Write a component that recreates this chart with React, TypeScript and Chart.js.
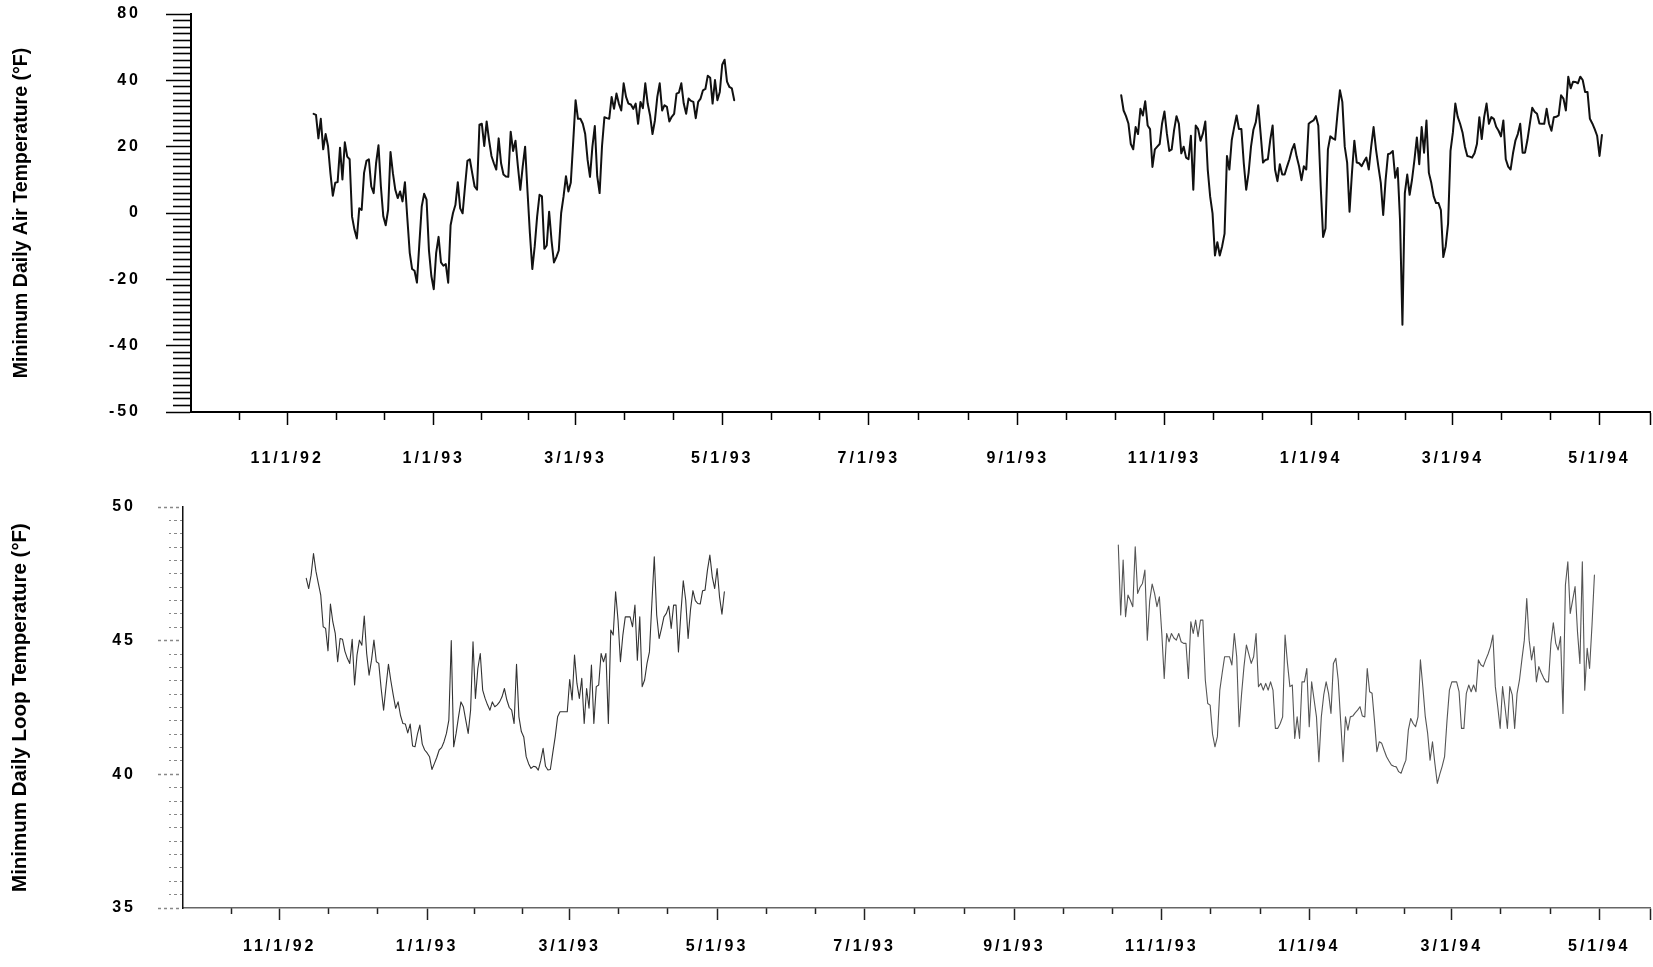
import React, { useEffect, useRef } from 'react';
import { Chart, registerables } from 'chart.js';

Chart.register(...registerables);

// ---------- tick labels ----------
const xTickDates = ['1992-11-01', '1993-01-01', '1993-03-01', '1993-05-01', '1993-07-01', '1993-09-01', '1993-11-01', '1994-01-01', '1994-03-01', '1994-05-01'];
const xTickLabels = ['11/1/92', '1/1/93', '3/1/93', '5/1/93', '7/1/93', '9/1/93', '11/1/93', '1/1/94', '3/1/94', '5/1/94'];
const airTickValues = [-60, -40, -20, 0, 20, 40, 60];
const airTickLabels = ['-50', '-40', '-20', '0', '20', '40', '80'];
const loopTickValues = [35, 40, 45, 50];
const loopTickLabels = ['35', '40', '45', '50'];

// ---------- series (daily values) ----------
const air1Start = '1992-11-12';
const air1 = [
  29.9, 29.6, 22.5, 28.4, 19.2, 23.8, 20.2, 12, 5.2, 9.1,
  9.3, 19.7, 10.1, 21.3, 17, 16.2, -1.1, -5, -7.7, 1.4,
  0.9, 12.1, 15.7, 16.2, 8, 6, 15, 20.4, 8.0,
  -1, -3.7, 0.9, 18.4, 12, 7.0, 4.5, 6.5, 3.5, 9.3,
  -1.6, -12, -16.9, -17.4, -21.0, -9.3, 2, 5.8, 4.0, -11.3,
  -19, -23.0, -12, -7.2, -14.9, -15.9, -15.4, -21.0, -3.7, 0,
  2.4, 9.3, 1.4, -0.1, 8, 15.7, 16.2, 12, 8.0, 7.0,
  26.6, 26.9, 20.2, 27.6, 22, 17.2, 15, 13.1, 22.5, 15,
  11.6, 11, 10.9, 24.5, 18.7, 21.8, 14.1, 7.0, 14, 20.0,
  6.5, -6.2, -16.9, -10, -1.1, 5.5, 5.0, -10.8, -9.8, 0.4,
  -8.3, -14.9, -13.3, -11.3, 0, 5.0, 11.1, 6.5, 9.1, 21.3,
  34.0, 28.4, 28.4, 26.9, 23.8, 16, 10.9, 20, 26.2, 11.1,
  6.0, 20.2, 28.9, 28.6, 28.4, 35.0, 31.4, 36.0, 33.0, 30.9,
  39.1, 35, 33.0, 32.7, 31.4, 33.0, 26.9, 33.5, 31.6, 39.1,
  33, 29.4, 23.8, 27.9, 35, 39.1, 30.9, 32.5, 32.0, 27.6,
  29, 29.9, 36.0, 36.3, 39.1, 33, 29.9, 34.5, 33.8, 33.5,
  28.6, 33.5, 34.5, 37.0, 37.4, 41.4, 40.8, 33.0, 40.1, 34.0,
  36.5, 44.7, 46.2, 39.6, 38, 37.6, 34.0,
];

const air2Start = '1993-10-14';
const air2 = [
  35.5, 30.9, 29.2, 27, 20.8, 19.2, 25.9, 23.8, 31.4, 29.4,
  33.7, 26.4, 25.3, 13.9, 19.2, 20, 20.8, 27, 30.6, 24,
  18.7, 19.2, 25, 29.2, 26.9, 18.0, 20.0, 16.7, 16.2, 23.3,
  7.0, 26.4, 25.3, 21.8, 24, 27.6, 13.1, 5, -0.1, -12.8,
  -8.8, -12.8, -10, -6.2, 17.2, 13.1, 22, 25.9, 29.4, 25.3,
  25.3, 15, 7.0, 12.1, 20, 25.1, 27.4, 32.5, 24, 15.2,
  16, 16.2, 22, 26.4, 13.1, 9.6, 14.7, 11.6, 11.6, 14,
  16.2, 19, 20.8, 17, 14.1, 9.9, 14.1, 13.1, 26.9, 27.5,
  27.9, 29.2, 26.4, 8, -7.2, -4.7, 19.2, 23.1, 22.5, 22.1,
  30, 37.0, 33.5, 20, 15.2, 0.4, 12.1, 21.8, 15.2, 15,
  14.1, 15.5, 16.7, 13.1, 20, 25.9, 19.2, 14, 9.1, -0.6,
  10, 17.7, 18, 18.7, 10.6, 13.6, -2.1, -33.7, 6.0, 11.6,
  5.5, 10.1, 16, 22.8, 14.7, 25.9, 18.2, 27.9, 12.1, 9.1,
  5, 3.0, 3.0, 0.9, -13.3, -10, -3.1, 18.7, 24.3, 33.0,
  29, 26.9, 24.3, 20, 17.2, 17, 16.7, 18, 20.8, 28.9,
  22.3, 28.9, 33.0, 26.9, 28.9, 28.4, 26, 24.8, 23.1, 27.9,
  16.2, 14, 13.1, 18, 21.8, 23.8, 26.9, 18.2, 18.2, 22,
  26.9, 31.7, 30.5, 29.9, 27, 26.9, 26.9, 31.4, 26.9, 24.8,
  28.9, 29, 29.4, 35.5, 34.5, 30.9, 41.1, 37.6, 39.6, 39.5,
  39.1, 41.1, 40.1, 36.5, 36.5, 28.4, 27, 25.3, 23.3, 17.2,
  23.5,
];

const loop1Start = '1992-11-12';
const loop1 = [
  47.33, 46.95, 47.45, 48.26, 47.6, 47.14, 46.70, 45.52, 45.46, 44.62,
  46.37, 45.7, 45.27, 44.21, 45.08, 45.05, 44.6, 44.34, 44.15, 45.05,
  43.34, 44.46, 45.02, 44.83, 45.92, 44.52, 43.71, 44.27, 45.02, 44.21,
  44.15, 43.2, 42.4, 43.28, 44.12, 43.5, 42.96, 42.47, 42.71, 42.2,
  41.9, 41.88, 41.55, 41.88, 41.06, 41.03, 41.5, 41.84, 41.13, 40.91,
  40.8, 40.66, 40.18, 40.4, 40.63, 40.91, 41.0, 41.22, 41.53, 42.03,
  45.0, 41.03, 41.53, 42.15, 42.71, 42.53, 42.03, 41.53, 42.4, 44.96,
  42.84, 43.96, 44.52, 43.15, 42.84, 42.6, 42.4, 42.71, 42.53, 42.6,
  42.71, 42.9, 43.21, 42.78, 42.5, 42.4, 41.9, 44.12, 42.15, 41.6,
  41.4, 40.66, 40.4, 40.22, 40.3, 40.28, 40.16, 40.5, 40.97, 40.3,
  40.16, 40.18, 40.8, 41.4, 42.15, 42.34, 42.34, 42.34, 42.34, 43.55,
  42.78, 44.46, 43.4, 42.84, 43.59, 41.9, 43.21, 42.47, 44.09, 41.9,
  43.28, 43.34, 44.52, 44.21, 44.52, 41.9, 45.4, 45.21, 46.83, 45.77,
  44.21, 45.21, 45.89, 45.89, 45.89, 45.52, 46.33, 44.27, 45.89, 43.28,
  43.53, 44.15, 44.58, 46.39, 48.14, 45.96, 45.08, 45.46, 45.89, 46.02,
  46.29, 45.46, 46.33, 46.33, 44.58, 46.02, 47.24, 46.52, 45.08, 46.17,
  46.87, 46.5, 46.39, 46.37, 46.87, 46.89, 47.64, 48.2, 47.39, 46.95,
  47.7, 46.64, 45.99, 46.83,
];

const loop2Start = '1993-10-14';
const loop2 = [
  48.58, 45.96, 48.02, 45.9, 46.71, 46.5, 46.27, 48.51, 46.77, 47.0,
  47.14, 47.64, 45.02, 46.5, 47.12, 46.77, 46.27, 46.64, 45.27, 43.59,
  45.27, 44.96, 45.27, 45.1, 45.02, 45.27, 44.96, 44.9, 44.9, 43.59,
  45.71, 45.27, 45.77, 45.15, 45.77, 45.77, 43.53, 42.65, 42.59, 41.5,
  41.03, 41.41, 43.15, 43.8, 44.4, 44.4, 44.4, 44.09, 45.27, 44.4,
  41.78, 43.0, 44.03, 44.84, 44.5, 44.15, 44.4, 45.27, 43.28, 43.4,
  43.15, 43.4, 43.15, 43.46, 43.15, 41.72, 41.72, 41.9, 42.15, 45.21,
  44.15, 43.28, 43.34, 41.34, 42.15, 41.34, 43.46, 43.46, 43.96, 41.78,
  43.46, 42.8, 42.15, 40.47, 42.15, 42.97, 43.46, 43.03, 42.28, 44.15,
  44.34, 43.53, 42.0, 40.47, 42.15, 41.65, 42.15, 42.18, 42.3, 42.4,
  42.53, 42.18, 42.15, 43.96, 43.09, 43.03, 42.0, 40.85, 41.22, 41.16,
  40.9, 40.66, 40.5, 40.35, 40.3, 40.28, 40.1, 40.04, 40.3, 40.53,
  41.65, 42.09, 41.9, 41.78, 42.15, 44.28, 43.28, 42.18, 41.53, 40.53,
  41.22, 40.4, 39.66, 40.0, 40.3, 40.66, 42.0, 43.15, 43.46, 43.46,
  43.46, 43.09, 41.72, 41.72, 43.03, 43.34, 43.09, 43.34, 43.09, 44.28,
  44.1, 44.03, 44.28, 44.5, 44.78, 45.21, 43.28, 42.53, 41.72, 43.28,
  42.53, 41.72, 43.28, 42.97, 41.72, 43.03, 43.53, 44.3, 45.02, 46.58,
  45.02, 44.28, 44.78, 43.46, 44.03, 43.8, 43.6, 43.46, 43.46, 44.9,
  45.67, 44.9, 44.65, 45.15, 42.28, 47.08, 47.95, 46.02, 46.52, 47.02,
  45.33, 44.15, 47.95, 43.15, 44.71, 43.96, 45.58, 47.45,
];

// ---------- helpers ----------
const EPOCH = Date.UTC(1992, 10, 1);
function dayOf(s: string): number {
  const [y, m, d] = s.split('-').map(Number);
  return Math.round((Date.UTC(y, m - 1, d) - EPOCH) / 86400000);
}
function toPoints(start: string, vals: number[]) {
  const s = dayOf(start);
  return vals.map((v, i) => ({ x: s + i, y: v }));
}

const X_MIN = -40;
const X_MAX = 567;
const majorDays = xTickDates.map(dayOf);
const minorDays: number[] = [majorDays[0] - 20];
for (let i = 0; i < majorDays.length - 1; i++) {
  const a = majorDays[i];
  const b = majorDays[i + 1];
  minorDays.push(a + (b - a) / 3, a + (2 * (b - a)) / 3);
}

const FONT = "'Liberation Sans', Arial, Helvetica, sans-serif";

const spacingPlugin = {
  id: 'labelSpacing',
  beforeDraw(chart: any) {
    Object.values(chart.scales).forEach((s: any) => {
      if (s.__patched) return;
      const orig = s.drawLabels.bind(s);
      s.drawLabels = (ca: any) => {
        const ctx = s.ctx;
        ctx.save();
        try { (ctx as any).letterSpacing = '3px'; } catch (e) { /* ignore */ }
        orig(ca);
        ctx.restore();
      };
      s.__patched = true;
    });
  },
};

interface PanelCfg {
  datasets: any[];
  yMin: number;
  yMax: number;
  yTickValues: number[];
  yTickLabels: string[];
  yMinorStep: number;
  title: string;
  titleSize: number;
  titlePad: number;
  yWidth: number;
  xHeight: number;
  padTop: number;
  xTickLen: number;
  xMinorLen: number;
  xPad: number;
  yTickLen: number;
  yMinorLen: number;
  yPad: number;
  axisColor: string;
  xBorder: any;
  yBorder: any;
  yTickColor: string;
  yTickDash: number[];
  yMinorWidth: number;
}

function buildChart(canvas: HTMLCanvasElement, c: PanelCfg) {
  const yMinor: number[] = [];
  for (let v = c.yMin; v <= c.yMax + 1e-9; v += c.yMinorStep) {
    const r = Math.round(v * 100) / 100;
    if (!c.yTickValues.includes(r)) yMinor.push(r);
  }
  const tickFont = { family: FONT, size: 16, weight: 'bold' as const };
  return new Chart(canvas, {
    type: 'line',
    data: { datasets: c.datasets },
    plugins: [spacingPlugin],
    options: {
      animation: false,
      responsive: true,
      maintainAspectRatio: false,
      layout: { padding: { left: 0, right: 3, top: c.padTop, bottom: 0 } },
      plugins: { legend: { display: false }, tooltip: { enabled: false } },
      elements: { point: { radius: 0 }, line: { tension: 0, borderJoinStyle: 'round', borderCapStyle: 'round' } },
      scales: {
        x: {
          type: 'linear',
          axis: 'x',
          position: 'bottom',
          min: X_MIN,
          max: X_MAX,
          afterBuildTicks: (s: any) => {
            s.ticks = majorDays.concat([X_MAX]).map((v) => ({ value: v }));
          },
          afterFit: (s: any) => {
            s.height = c.xHeight;
            s.paddingLeft = 0;
            s.paddingRight = 0;
          },
          ticks: {
            autoSkip: false,
            maxRotation: 0,
            minRotation: 0,
            padding: c.xPad,
            color: '#000',
            font: tickFont,
            callback: (v: any) => {
              const i = majorDays.indexOf(Number(v));
              return i >= 0 ? xTickLabels[i] : '';
            },
          },
          grid: { drawOnChartArea: false, drawTicks: true, tickLength: c.xTickLen, tickWidth: 1.5, tickColor: c.axisColor },
          border: c.xBorder,
        },
        xMinor: {
          type: 'linear',
          axis: 'x',
          position: { y: c.yMin },
          min: X_MIN,
          max: X_MAX,
          afterBuildTicks: (s: any) => { s.ticks = minorDays.map((v) => ({ value: v })); },
          ticks: { display: false },
          grid: { drawOnChartArea: false, drawTicks: true, tickLength: c.xMinorLen, tickWidth: 1.5, tickColor: c.axisColor },
          border: { display: false },
        },
        y: {
          type: 'linear',
          axis: 'y',
          position: 'left',
          min: c.yMin,
          max: c.yMax,
          afterBuildTicks: (s: any) => { s.ticks = c.yTickValues.map((v) => ({ value: v })); },
          afterFit: (s: any) => {
            s.width = c.yWidth;
            s.paddingTop = 0;
            s.paddingBottom = 0;
          },
          ticks: {
            autoSkip: false,
            padding: c.yPad,
            color: '#000',
            font: tickFont,
            callback: (v: any) => {
              const i = c.yTickValues.indexOf(Number(v));
              return i >= 0 ? c.yTickLabels[i] : '';
            },
          },
          grid: { drawOnChartArea: false, drawTicks: true, tickLength: c.yTickLen, tickWidth: 1.5, tickColor: c.yTickColor, tickBorderDash: c.yTickDash },
          border: c.yBorder,
          title: {
            display: true,
            text: c.title,
            color: '#000',
            font: { family: FONT, size: c.titleSize, weight: 'bold' },
            padding: { top: c.titlePad, bottom: 0 },
          },
        },
        yMinor: {
          type: 'linear',
          axis: 'y',
          position: { x: X_MIN },
          min: c.yMin,
          max: c.yMax,
          afterBuildTicks: (s: any) => { s.ticks = yMinor.map((v) => ({ value: v })); },
          ticks: { display: false },
          grid: { drawOnChartArea: false, drawTicks: true, tickLength: c.yMinorLen, tickWidth: c.yMinorWidth, tickColor: c.yTickColor, tickBorderDash: c.yTickDash },
          border: { display: false },
        },
      },
    } as any,
  });
}

export default function App() {
  const topRef = useRef<HTMLCanvasElement>(null);
  const botRef = useRef<HTMLCanvasElement>(null);

  useEffect(() => {
    const topLine = { borderColor: '#111', borderWidth: 2, pointRadius: 0, fill: false, xAxisID: 'x', yAxisID: 'y' };
    const botLine = { borderWidth: 1.1, pointRadius: 0, fill: false, xAxisID: 'x', yAxisID: 'y' };
    const top = buildChart(topRef.current!, {
      datasets: [
        { ...topLine, label: 'air 1992-93', data: toPoints(air1Start, air1) },
        { ...topLine, label: 'air 1993-94', data: toPoints(air2Start, air2) },
      ],
      yMin: -60,
      yMax: 60,
      yTickValues: airTickValues,
      yTickLabels: airTickLabels,
      yMinorStep: 2,
      title: 'Minimum Daily Air Temperature (°F)',
      titleSize: 19.5,
      titlePad: 10,
      yWidth: 191,
      xHeight: 68,
      padTop: 14,
      xTickLen: 13,
      xMinorLen: 8,
      xPad: 24,
      yTickLen: 25,
      yMinorLen: 18,
      yPad: 25,
      axisColor: '#000',
      xBorder: { display: true, color: '#000', width: 2 },
      yBorder: { display: true, color: '#000', width: 2 },
      yTickColor: '#000',
      yTickDash: [],
      yMinorWidth: 1.6,
    });
    const bot = buildChart(botRef.current!, {
      datasets: [
        { ...botLine, borderColor: '#333', label: 'loop 1992-93', data: toPoints(loop1Start, loop1) },
        { ...botLine, borderColor: '#555', label: 'loop 1993-94', data: toPoints(loop2Start, loop2) },
      ],
      yMin: 35,
      yMax: 50,
      yTickValues: loopTickValues,
      yTickLabels: loopTickLabels,
      yMinorStep: 0.5,
      title: 'Minimum Daily Loop Temperature (°F)',
      titleSize: 20.5,
      titlePad: 8,
      yWidth: 183,
      xHeight: 59,
      padTop: 27,
      xTickLen: 12,
      xMinorLen: 6,
      xPad: 17,
      yTickLen: 25,
      yMinorLen: 14,
      yPad: 22,
      axisColor: '#222',
      xBorder: { display: true, color: '#666', width: 1.5, dash: [6, 4] },
      yBorder: { display: true, color: '#111', width: 1.5 },
      yTickColor: '#888',
      yTickDash: [3, 3],
      yMinorWidth: 1,
    });
    return () => {
      top.destroy();
      bot.destroy();
    };
  }, []);

  return (
    <div style={{ position: 'absolute', left: 0, top: 0, width: 1653, height: 967, background: '#fff', overflow: 'hidden' }}>
      <div style={{ position: 'absolute', left: 0, top: 0, width: 1653, height: 480 }}>
        <canvas ref={topRef} />
      </div>
      <div style={{ position: 'absolute', left: 0, top: 480, width: 1653, height: 487 }}>
        <canvas ref={botRef} />
      </div>
    </div>
  );
}
